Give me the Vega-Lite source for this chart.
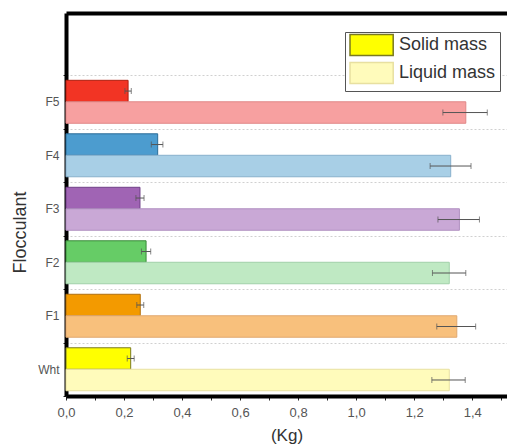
{
  "$schema": "https://vega.github.io/schema/vega-lite/v6.json",
  "width": 441,
  "height": 383,
  "autosize": "none",
  "padding": {"left": 66, "top": 13, "right": 0, "bottom": 52},
  "background": "white",
  "config": {
    "view": {"stroke": null},
    "font": "Liberation Sans"
  },
  "data": {
    "values": [
      {"floc": "F5", "type": "Solid mass", "k": "F5 Solid", "value": 0.214, "lo": 0.203, "hi": 0.225},
      {"floc": "F5", "type": "Liquid mass", "k": "F5 Liquid", "value": 1.378, "lo": 1.299, "hi": 1.452},
      {"floc": "F4", "type": "Solid mass", "k": "F4 Solid", "value": 0.316, "lo": 0.294, "hi": 0.334},
      {"floc": "F4", "type": "Liquid mass", "k": "F4 Liquid", "value": 1.326, "lo": 1.255, "hi": 1.396},
      {"floc": "F3", "type": "Solid mass", "k": "F3 Solid", "value": 0.255, "lo": 0.241, "hi": 0.269},
      {"floc": "F3", "type": "Liquid mass", "k": "F3 Liquid", "value": 1.356, "lo": 1.282, "hi": 1.425},
      {"floc": "F2", "type": "Solid mass", "k": "F2 Solid", "value": 0.276, "lo": 0.26, "hi": 0.292},
      {"floc": "F2", "type": "Liquid mass", "k": "F2 Liquid", "value": 1.321, "lo": 1.263, "hi": 1.378},
      {"floc": "F1", "type": "Solid mass", "k": "F1 Solid", "value": 0.256, "lo": 0.244, "hi": 0.268},
      {"floc": "F1", "type": "Liquid mass", "k": "F1 Liquid", "value": 1.347, "lo": 1.278, "hi": 1.412},
      {"floc": "Wht", "type": "Solid mass", "k": "Wht Solid", "value": 0.223, "lo": 0.211, "hi": 0.235},
      {"floc": "Wht", "type": "Liquid mass", "k": "Wht Liquid", "value": 1.321, "lo": 1.261, "hi": 1.376}
    ]
  },
  "encoding": {
    "y": {
      "field": "floc",
      "type": "nominal",
      "sort": ["F5", "F4", "F3", "F2", "F1", "Wht"],
      "scale": {"paddingInner": 0, "paddingOuter": 0.58, "align": 1},
      "axis": {
        "title": "Flocculant",
        "titleFontSize": 18,
        "titleFontWeight": "normal",
        "titleColor": "#333",
        "titlePadding": 8,
        "titleY": 219,
        "labelFontSize": 12,
        "labelColor": "#555",
        "labelPadding": 4,
        "tickBand": "extent",
        "tickSize": 3,
        "tickColor": "#222",
        "domainColor": "black",
        "domainWidth": 4,
        "grid": true,
        "gridColor": "#d0d0d0",
        "gridDash": [2, 2],
        "gridWidth": 1
      }
    },
    "yOffset": {
      "field": "type",
      "type": "nominal",
      "sort": ["Solid mass", "Liquid mass"],
      "scale": {"paddingInner": 0, "paddingOuter": 0.245}
    }
  },
  "layer": [
    {
      "mark": {"type": "bar", "strokeWidth": 1},
      "encoding": {
        "x": {
          "field": "value",
          "type": "quantitative",
          "scale": {"domain": [0, 1.52], "nice": false},
          "axis": {
            "title": "(Kg)",
            "titleFontSize": 17,
            "titleFontWeight": "normal",
            "titleColor": "#333",
            "titlePadding": 8,
            "values": [0, 0.1, 0.2, 0.3, 0.4, 0.5, 0.6, 0.7, 0.8, 0.9, 1.0, 1.1, 1.2, 1.3, 1.4, 1.5],
            "labelExpr": "round(datum.value*10) % 2 == 0 ? replace(format(datum.value, '.1f'), '.', ',') : ''",
            "labelFontSize": 13,
            "labelColor": "#555",
            "labelPadding": 6,
            "labelFlush": false,
            "tickSize": 4,
            "tickColor": "#222",
            "domainColor": "black",
            "domainWidth": 4,
            "grid": false
          }
        },
        "fill": {
          "field": "k",
          "type": "nominal",
          "scale": {
            "domain": ["Wht Solid", "Wht Liquid", "F1 Solid", "F1 Liquid", "F2 Solid", "F2 Liquid", "F3 Solid", "F3 Liquid", "F4 Solid", "F4 Liquid", "F5 Solid", "F5 Liquid"],
            "range": ["#ffff00", "#fffbbb", "#f39a00", "#f8c07c", "#66cc66", "#bfe9c3", "#a064b4", "#c9a8d6", "#4c9ccf", "#a8cfe6", "#f23424", "#f7a0a0"]
          },
          "legend": {
            "values": ["Wht Solid", "Wht Liquid"],
            "labelExpr": "datum.value == 'Wht Solid' ? 'Solid mass' : 'Liquid mass'",
            "title": null,
            "orient": "none",
            "legendX": 279,
            "legendY": 19,
            "strokeColor": "#555",
            "fillColor": "white",
            "padding": 4,
            "rowPadding": 0,
            "labelFontSize": 18,
            "labelColor": "#333",
            "labelOffset": 32,
            "symbolType": "M-1,-1.3H4.4V1.3H-1Z",
            "symbolSize": 256,
            "symbolStrokeWidth": 1,
            "symbolOpacity": 1,
            "encode": {
              "symbols": {
                "update": {
                  "stroke": {"signal": "datum.value == 'Wht Solid' ? '#4a4a10' : '#eee8b8'"},
                  "strokeWidth": {"value": 1.5}
                }
              }
            }
          }
        },
        "stroke": {
          "field": "k",
          "type": "nominal",
          "scale": {
            "domain": ["Wht Solid", "Wht Liquid", "F1 Solid", "F1 Liquid", "F2 Solid", "F2 Liquid", "F3 Solid", "F3 Liquid", "F4 Solid", "F4 Liquid", "F5 Solid", "F5 Liquid"],
            "range": ["#7a7a20", "#e8e0a0", "#b07010", "#e0a870", "#3a8a3a", "#a0d0a8", "#704088", "#b090c0", "#2a6c98", "#88b0cc", "#b02010", "#e08888"]
          },
          "legend": null
        }
      }
    },
    {
      "mark": {"type": "rule", "color": "#555", "strokeWidth": 1},
      "encoding": {
        "x": {
          "field": "lo",
          "type": "quantitative",
          "axis": {
            "orient": "top",
            "labels": false,
            "ticks": false,
            "title": null,
            "grid": false,
            "domainColor": "black",
            "domainWidth": 4
          }
        },
        "x2": {"field": "hi"}
      }
    },
    {
      "mark": {"type": "tick", "orient": "vertical", "color": "#555", "size": 6, "thickness": 1},
      "encoding": {
        "x": {"field": "lo", "type": "quantitative", "axis": null}
      }
    },
    {
      "mark": {"type": "tick", "orient": "vertical", "color": "#555", "size": 6, "thickness": 1},
      "encoding": {
        "x": {"field": "hi", "type": "quantitative", "axis": null}
      }
    }
  ],
  "resolve": {"axis": {"x": "independent"}}
}
